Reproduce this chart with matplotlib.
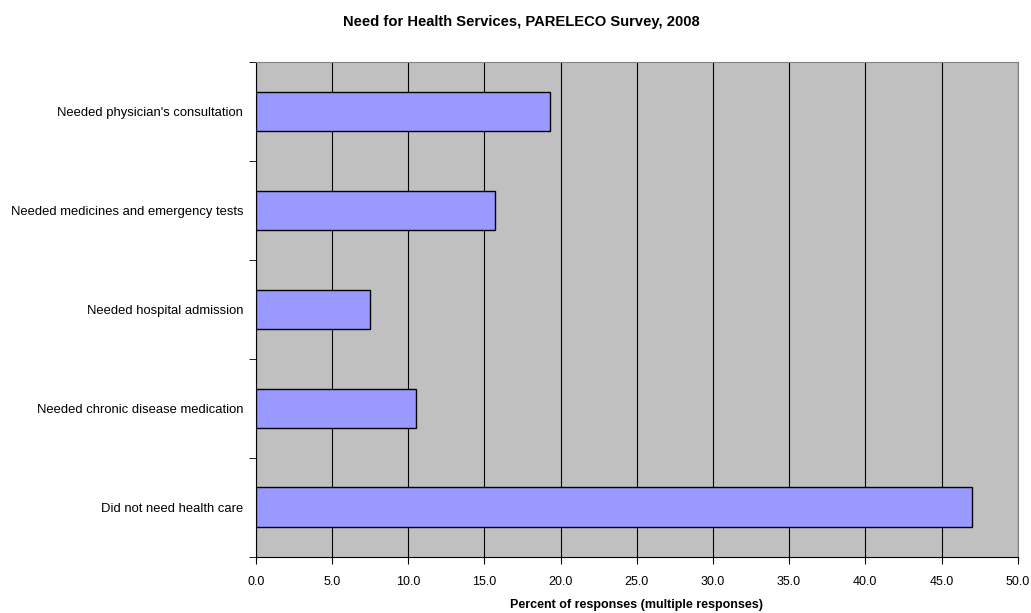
import matplotlib
matplotlib.use("Agg")
import matplotlib.pyplot as plt
import numpy as np

plt.rcParams['font.family'] = ['Liberation Sans', 'DejaVu Sans']

categories = ["Needed physician's consultation",
              "Needed medicines and emergency tests",
              "Needed hospital admission",
              "Needed chronic disease medication",
              "Did not need health care"]
values = [19.3, 15.7, 7.5, 10.5, 47.0]
xticks = np.arange(0, 50.1, 5)

fig = plt.figure(figsize=(10.31, 6.13), dpi=100)
ax = fig.add_axes([255.7/1031, 1-556.7/613, (1017.7-255.7)/1031, (556.7-62)/613])
ax.set_facecolor('#C0C0C0')

n = len(categories)
ypos = np.arange(n)
ax.barh(ypos, values, height=0.4, color='#9999FF', edgecolor='black', linewidth=1.0, zorder=3)
ax.set_ylim(n - 0.5, -0.5)
ax.set_xlim(0, 50)
ax.set_xticks(xticks)
ax.set_xticklabels([f"{v:.1f}" for v in xticks], fontsize=9)
ax.set_yticks(ypos)
ax.set_yticklabels(categories, fontsize=9.35)
ax.tick_params(axis='y', which='major', length=0, pad=9)
ax.set_yticks(np.arange(-0.5, n, 1), minor=True)
ax.tick_params(axis='y', which='minor', length=5, color='black')
ax.tick_params(axis='x', length=5, color='black', pad=9)
ax.xaxis.grid(True, color='black', linewidth=0.8, zorder=1)
ax.set_axisbelow(True)
for s in ['top', 'right']:
    ax.spines[s].set_color('#808080')
    ax.spines[s].set_linewidth(0.8)
for s in ['left', 'bottom']:
    ax.spines[s].set_color('black')
    ax.spines[s].set_linewidth(0.8)

fig.text(636.7/1031, 1-605/613, "Percent of responses (multiple responses)",
         ha='center', va='center', fontsize=9, fontweight='bold')
fig.text(521/1031, 1-22/613, "Need for Health Services, PARELECO Survey, 2008",
         ha='center', va='center', fontsize=10.6, fontweight='bold')

fig.savefig("out.png", dpi=100)
